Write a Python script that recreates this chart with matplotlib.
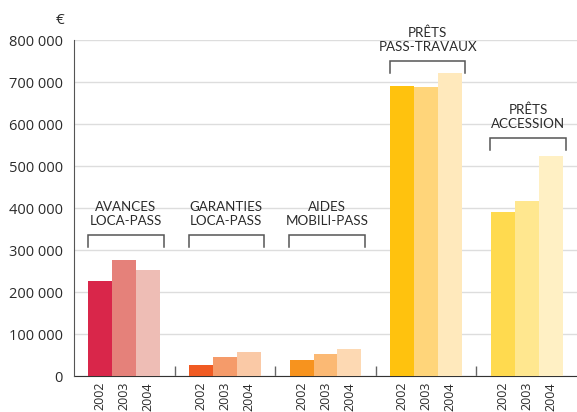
import numpy as np
import matplotlib.pyplot as plt

# Données (en euros)
groupes = ['AVANCES\nLOCA-PASS', 'GARANTIES\nLOCA-PASS', 'AIDES\nMOBILI-PASS',
           'PRÊTS\nPASS-TRAVAUX', 'PRÊTS\nACCESSION']
annees = ['2002', '2003', '2004']
v2002 = [227000, 26000, 38000, 690000, 391000]
v2003 = [276000, 45000, 52000, 688000, 417000]
v2004 = [252000, 57000, 64000, 721000, 524000]

couleurs = [
    ['#D9264A', '#E5817A', '#EEBDB5'],
    ['#F05A22', '#F59B6A', '#FAC9A6'],
    ['#F7931E', '#FBB974', '#FDD9B3'],
    ['#FFC20E', '#FFD57A', '#FFE9BC'],
    ['#FFDA4F', '#FFE78F', '#FFF0C4'],
]
# bas des crochets au-dessus de chaque groupe
crochet_bas = [307000, 307000, 307000, 722000, 538000]

plt.rcParams['font.family'] = ['Open Sans', 'DejaVu Sans']
texte = '#2b2b2b'

fig = plt.figure(figsize=(5.77, 4.12), dpi=100)
ax = fig.add_axes([74 / 577, 36 / 412, 503 / 577, 336 / 412])

x = np.arange(len(groupes))
w = 0.238
valeurs = [v2002, v2003, v2004]
for i in range(len(groupes)):
    for j in range(3):
        ax.bar(x[i] + (j - 1) * w, valeurs[j][i], width=w, color=couleurs[i][j], zorder=3)
        ax.text(x[i] + (j - 1) * w, -14000, annees[j], rotation=90, ha='center', va='top',
                fontsize=9, color=texte)

# crochets et libellés
for i, g in enumerate(groupes):
    b = crochet_bas[i]
    h = 28500
    ax.plot([x[i] - 0.36, x[i] - 0.36, x[i] + 0.39, x[i] + 0.39], [b, b + h, b + h, b],
            color='#555555', lw=1.1, zorder=4, solid_joinstyle='miter')
    ax.text(x[i] + 0.015, b + h + 19000, g, ha='center', va='bottom', fontsize=9.6,
            color=texte, linespacing=1.2, family=['Lato', 'DejaVu Sans'])

ax.set_xlim(-0.5, 4.5)
ax.set_ylim(0, 800000)
ax.set_yticks(np.arange(0, 800001, 100000))
ax.set_yticklabels(['0'] + [f'{v // 1000} 000' for v in range(100000, 800001, 100000)])
ax.tick_params(axis='y', length=0, labelsize=10.5, labelcolor=texte, pad=8)
ax.set_xticks([])
ax.set_xticks([0.5, 1.5, 2.5, 3.5], minor=True)
ax.tick_params(axis='x', which='minor', direction='in', length=7, color='#666666', width=1)
ax.grid(axis='y', color='#DDDDDD', lw=1, zorder=0)
for s in ['top', 'right']:
    ax.spines[s].set_visible(False)
ax.spines['left'].set_color('#555555')
ax.spines['bottom'].set_color('#333333')
ax.spines['left'].set_zorder(5)

fig.text(60 / 577, 1 - 20 / 412, '€', ha='center', va='center', fontsize=11, color=texte)

fig.savefig('out.png', dpi=100)
